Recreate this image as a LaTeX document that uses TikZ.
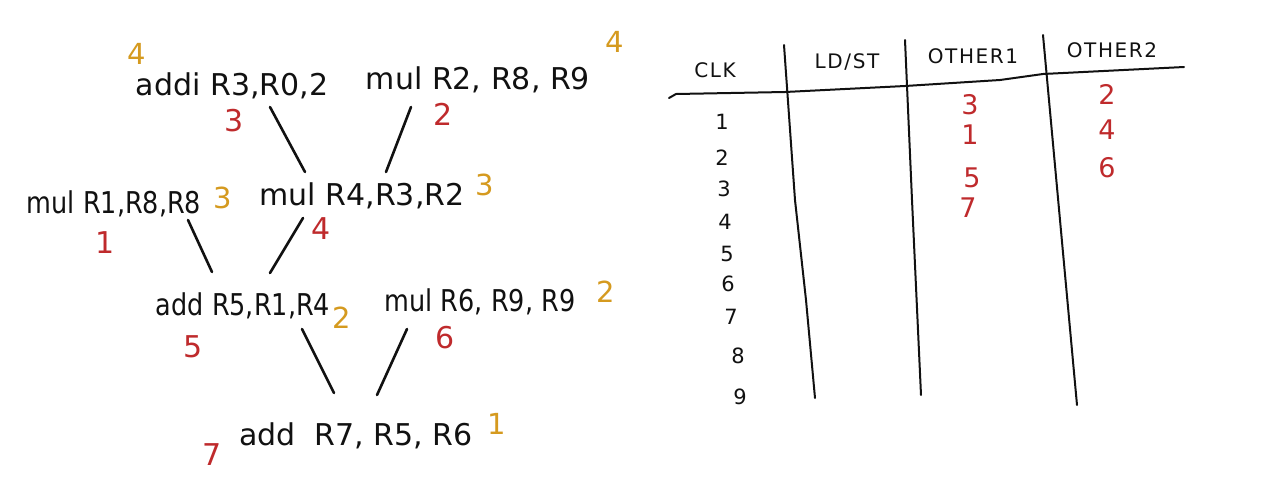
\documentclass[tikz,border=0pt]{standalone}
\usepackage{fontspec}
\setmainfont{DejaVu Sans}
\newfontfamily\headfont[LetterSpace=8]{DejaVu Sans}
\newfontfamily\narrowfont[FakeStretch=0.85]{DejaVu Sans}
\usetikzlibrary{calc}
\definecolor{ink}{HTML}{111111}
\definecolor{ordred}{HTML}{BF2A2C}
\definecolor{prioyel}{HTML}{D59A1F}
\tikzset{
  instr/.style={anchor=base,font=\fontsize{30}{34}\selectfont,text=ink,inner sep=1pt},
  instrsm/.style={instr,font=\narrowfont\fontsize{30}{34}\selectfont},
  ordnum/.style={font=\fontsize{30}{32}\selectfont,text=ordred,inner sep=1pt},
  prionum/.style={font=\fontsize{29}{32}\selectfont,text=prioyel,inner sep=1pt},
  slotnum/.style={font=\fontsize{27}{30}\selectfont,text=ordred,inner sep=1pt},
  colhead/.style={font=\headfont\fontsize{20}{22}\selectfont,text=ink,inner sep=1pt},
  clknum/.style={font=\fontsize{21}{24}\selectfont,text=ink,inner sep=1pt},
  link/.style={draw=ink,line width=2.6pt,line cap=round},
  rule/.style={draw=ink,line width=2pt,line cap=round,line join=round},
}
\begin{document}
\begin{tikzpicture}[x=1pt,y=-1pt]
  \useasboundingbox[fill=white] (0,0) rectangle (1283,491);
  % dependence graph
  \node[instr] (i1) at (232,95) {addi\ R3,R0,2};
  \node[instr] (i2) at (478,89) {mul R2, R8, R9};
  \node[instrsm] (i3) at (114,213) {mul R1,R8,R8};
  \node[instr] (i4) at (362,205) {mul R4,R3,R2};
  \node[instrsm] (i5) at (243,315) {add R5,R1,R4};
  \node[instrsm] (i6) at (480,311) {mul R6, R9, R9};
  \node[instr] (i7) at (356,445) {add\ \ R7, R5, R6};
  \draw[link] ($(i1.base)+(38,12)$) -- ($(i4.base)+(-57,-33)$);
  \draw[link] ($(i2.base)+(-67,18)$) -- ($(i4.base)+(24,-33)$);
  \draw[link] ($(i3.base)+(74,7)$) -- ($(i5.base)+(-31,-43)$);
  \draw[link] ($(i4.base)+(-59,13)$) -- ($(i5.base)+(27,-42)$);
  \draw[link] ($(i5.base)+(59,14)$) -- ($(i7.base)+(-22,-52)$);
  \draw[link] ($(i6.base)+(-73,18)$) -- ($(i7.base)+(21,-50)$);
  % issue order (red) and priority (yellow)
  \foreach \n/\x/\y in {1/105/243,2/443/114,3/234/121,4/321/229,5/193/347,6/445/338,7/212/455}
    \node[ordnum] (o\n) at (\x,\y) {\n};
  \node[prionum] (p1) at (137,54) {4};
  \node[prionum] (p2) at (615,42) {4};
  \node[prionum] (p3) at (223,198) {3};
  \node[prionum] (p4) at (485,185) {3};
  \node[prionum] (p5) at (342,318) {2};
  \node[prionum] (p6) at (606,292) {2};
  \node[prionum] (p7) at (497,424) {1};
  % schedule table
  \node[colhead] (hclk) at (715,70) {CLK};
  \node[colhead] (hls) at (847,62) {LD/ST};
  \node[colhead] (ho1) at (973,56) {OTHER1};
  \node[colhead] (ho2) at (1112,50) {OTHER2};
  \draw[rule] (669,98) -- (676,94) -- (785,92) -- (905,86) -- (1000,80) -- (1043,74) -- (1184,67);
  \draw[rule] (784,45) -- (795,200) -- (806,300) -- (815,398);
  \draw[rule] (905,40) -- (912,200) -- (921,395);
  \draw[rule] (1043,35) -- (1060,220) -- (1077,405);
  \foreach \n/\x/\y in {1/722/122,2/722/158,3/724/189,4/725/222,5/727/254,6/728/284,7/731/317,8/738/356,9/740/397}
    \node[clknum] (c\n) at (\x,\y) {\n};
  \foreach \n/\x/\y in {3/970/105,1/970/135,5/972/178,7/968/208}
    \node[slotnum] (sa\n) at (\x,\y) {\n};
  \foreach \n/\x/\y in {2/1107/94,4/1107/130,6/1107/168}
    \node[slotnum] (sb\n) at (\x,\y) {\n};
\end{tikzpicture}
\end{document}
